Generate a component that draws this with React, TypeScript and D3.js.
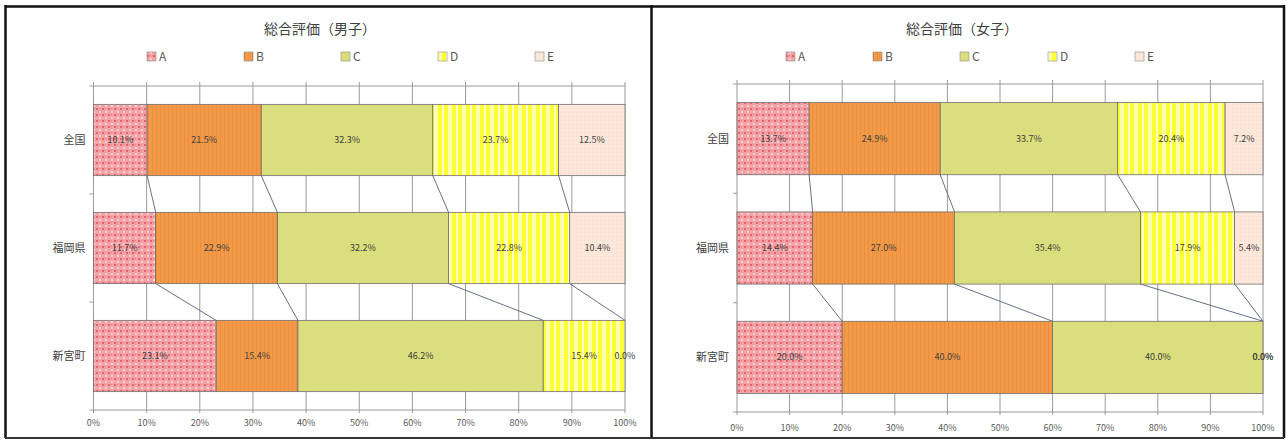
import React from "react";
import * as d3 from "d3";

const categories = ["全国", "福岡県", "新宮町"];
const grades = ["A", "B", "C", "D", "E"];
const xTicks = [0, 0.1, 0.2, 0.3, 0.4, 0.5, 0.6, 0.7, 0.8, 0.9, 1.0];

const maleA = [10.1, 11.7, 23.1];
const maleB = [21.5, 22.9, 15.4];
const maleC = [32.3, 32.2, 46.2];
const maleD = [23.7, 22.8, 15.4];
const maleE = [12.5, 10.4, 0.0];

const femaleA = [13.7, 14.4, 20.0];
const femaleB = [24.9, 27.0, 40.0];
const femaleC = [33.7, 35.4, 40.0];
const femaleD = [20.4, 17.9, 0.0];
const femaleE = [7.2, 5.4, 0.0];

const FONT = "'Noto Sans CJK JP', 'Noto Sans', sans-serif";

type PanelProps = {
  id: string;
  title: string;
  series: number[][];
  x0: number;
  x1: number;
  top: number;
  bottom: number;
  titleX: number;
  legendX: number[];
  tickLabelY: number;
};

function Patterns({ id }: { id: string }) {
  return (
    <defs>
      <pattern id={`${id}-A`} width="6" height="6" patternUnits="userSpaceOnUse">
        <rect width="6" height="6" fill="#F5A2A6" />
        <rect x="0" y="0" width="2" height="2" fill="#E4646E" />
        <rect x="3" y="3" width="2" height="2" fill="#FAD0D2" />
        <rect x="3" y="0" width="1" height="1" fill="#EA808A" />
      </pattern>
      <pattern id={`${id}-B`} width="4" height="4" patternUnits="userSpaceOnUse">
        <rect width="4" height="4" fill="#F39A48" />
        <rect x="0" y="0" width="1" height="4" fill="#EC8E3E" />
      </pattern>
      <pattern id={`${id}-C`} width="4" height="4" patternUnits="userSpaceOnUse">
        <rect width="4" height="4" fill="#DADE7C" />
      </pattern>
      <pattern id={`${id}-D`} width="14" height="4" patternUnits="userSpaceOnUse">
        <rect width="14" height="4" fill="#FFFF33" />
        <rect x="0" y="0" width="4" height="4" fill="#FFFFB0" />
        <rect x="8" y="0" width="2" height="4" fill="#FFFFC8" />
      </pattern>
      <pattern id={`${id}-E`} width="4" height="4" patternUnits="userSpaceOnUse">
        <rect width="4" height="4" fill="#FDE7DA" />
        <rect x="0" y="0" width="1" height="1" fill="#F8DACA" />
      </pattern>
    </defs>
  );
}

function Panel(p: PanelProps) {
  const x = d3.scaleLinear().domain([0, 1]).range([p.x0, p.x1]);
  const y = d3
    .scaleBand<string>()
    .domain(categories)
    .range([p.top, p.bottom])
    .paddingInner(0.34)
    .paddingOuter(0.17);

  const rows = categories.map((c, i) => {
    const r: any = { cat: c };
    grades.forEach((g, k) => (r[g] = p.series[k][i]));
    return r;
  });
  const stacked = d3.stack<any>().keys(grades).offset(d3.stackOffsetExpand)(rows);
  const bw = y.bandwidth();
  const boundaries = [p.top, ...categories.slice(1).map((c) => (y(c) as number) - (y.step() * 0.34) / 2), p.bottom];

  return (
    <g>
      <Patterns id={p.id} />
      <text x={p.titleX} y={34} textAnchor="middle" fontSize={14} fill="#404040" fontFamily={FONT}>
        {p.title}
      </text>
      {grades.map((g, k) => (
        <g key={g} transform={`translate(${p.legendX[k]},61)`}>
          <rect x={0} y={-9} width={9} height={9} fill={`url(#${p.id}-${g})`} stroke="#8a8a8a" strokeWidth={0.6} />
          <text x={12} y={0} fontSize={12} fill="#595959" fontFamily={FONT}>
            {g}
          </text>
        </g>
      ))}
      {xTicks.map((t) => (
        <line key={t} x1={x(t)} x2={x(t)} y1={p.top - 4} y2={p.bottom + 3} stroke="#9a9a9a" strokeWidth={1} />
      ))}
      <line x1={p.x0} x2={p.x1} y1={p.top} y2={p.top} stroke="#9a9a9a" strokeWidth={1} />
      <line x1={p.x0} x2={p.x1} y1={p.bottom} y2={p.bottom} stroke="#9a9a9a" strokeWidth={1} />
      {boundaries.map((b, i) => (
        <line key={i} x1={p.x0 - 4} x2={p.x0} y1={b} y2={b} stroke="#9a9a9a" strokeWidth={1} />
      ))}
      {stacked.slice(0, 4).map((s, k) =>
        categories.slice(0, -1).map((c, i) => (
          <line
            key={`${k}-${i}`}
            x1={x(s[i][1])}
            y1={(y(c) as number) + bw}
            x2={x(s[i + 1][1])}
            y2={y(categories[i + 1]) as number}
            stroke="#55607a"
            strokeWidth={0.9}
          />
        ))
      )}
      {stacked.map((s) =>
        s.map((d, i) => (
          <rect
            key={`${s.key}-${i}`}
            x={x(d[0])}
            y={y(categories[i])}
            width={Math.max(0, x(d[1]) - x(d[0]))}
            height={bw}
            fill={`url(#${p.id}-${s.key})`}
            stroke="#707070"
            strokeWidth={0.8}
          />
        ))
      )}
      {stacked.map((s, k) =>
        s.map((d, i) => (
          <text
            key={`l-${s.key}-${i}`}
            x={(x(d[0]) + x(d[1])) / 2}
            y={(y(categories[i]) as number) + bw / 2 + 3}
            textAnchor="middle"
            fontSize={9}
            fill="#404040"
            fontFamily={FONT}
          >
            {p.series[k][i].toFixed(1) + "%"}
          </text>
        ))
      )}
      {categories.map((c) => (
        <text
          key={c}
          x={p.x0 - 8}
          y={(y(c) as number) + bw / 2 + 4}
          textAnchor="end"
          fontSize={11}
          fill="#404040"
          fontFamily={FONT}
        >
          {c}
        </text>
      ))}
      {xTicks.map((t) => (
        <text key={`t${t}`} x={x(t)} y={p.tickLabelY} textAnchor="middle" fontSize={9} fill="#595959" fontFamily={FONT}>
          {d3.format(".0%")(t)}
        </text>
      ))}
    </g>
  );
}

export default function App() {
  return (
    <svg width={1287} height={441} style={{ position: "absolute", left: 0, top: 0, background: "#fff" }}>
      <rect x={0} y={0} width={1287} height={441} fill="#fff" />
      <Panel
        id="m"
        title="総合評価（男子）"
        series={[maleA, maleB, maleC, maleD, maleE]}
        x0={93.5}
        x1={625}
        top={86}
        bottom={410}
        titleX={320}
        legendX={[147, 244, 341, 438, 535]}
        tickLabelY={426}
      />
      <Panel
        id="f"
        title="総合評価（女子）"
        series={[femaleA, femaleB, femaleC, femaleD, femaleE]}
        x0={737}
        x1={1263}
        top={84}
        bottom={412}
        titleX={962}
        legendX={[786, 873, 960, 1048, 1135]}
        tickLabelY={431}
      />
      <line x1={5} x2={1284} y1={6.5} y2={6.5} stroke="#111" strokeWidth={2.5} />
      <line x1={5.5} x2={5.5} y1={5} y2={438} stroke="#111" strokeWidth={2.5} />
      <line x1={651.5} x2={651.5} y1={5} y2={438} stroke="#111" strokeWidth={2.5} />
      <line x1={1284} x2={1284} y1={5} y2={438} stroke="#111" strokeWidth={2.5} />
      <line x1={5} x2={1284} y1={438} y2={438} stroke="#333" strokeWidth={2} />
    </svg>
  );
}
